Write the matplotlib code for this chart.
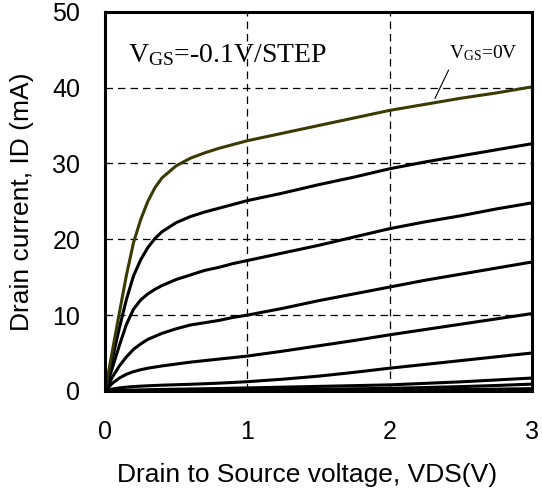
import matplotlib
matplotlib.use("Agg")
import matplotlib.pyplot as plt

plt.rcParams["font.family"] = ["Liberation Sans", "DejaVu Sans"]
plt.rcParams["mathtext.fontset"] = "custom"
plt.rcParams["mathtext.rm"] = "Liberation Serif"

# drain voltage points (V)
vds = [0, 0.05, 0.1, 0.15, 0.2, 0.25, 0.3, 0.35, 0.4, 0.5, 0.6, 0.7, 0.8, 0.9,
       1.0, 1.25, 1.5, 1.75, 2.0, 2.25, 2.5, 2.75, 3.0]

# drain current (mA), VGS = 0V, -0.1V, -0.2V ...
id_0 = [0, 5.2, 10.3, 15.3, 19.6, 22.6, 25.0, 26.8, 28.1, 29.7, 30.7, 31.4, 32.0,
        32.5, 33.0, 34.0, 35.0, 36.0, 37.0, 37.8, 38.6, 39.3, 40.1]
id_1 = [0, 4.2, 8.3, 12.1, 15.2, 17.3, 18.9, 20.1, 21.0, 22.2, 23.0, 23.6, 24.1,
        24.6, 25.1, 26.1, 27.2, 28.2, 29.3, 30.2, 31.0, 31.8, 32.6]
id_2 = [0, 3.0, 6.0, 8.8, 10.8, 12.0, 12.8, 13.4, 13.9, 14.7, 15.3, 15.9, 16.3,
        16.8, 17.2, 18.2, 19.2, 20.3, 21.4, 22.3, 23.1, 24.0, 24.8]
id_3 = [0, 1.8, 3.3, 4.5, 5.5, 6.2, 6.8, 7.2, 7.6, 8.2, 8.7, 9.0, 9.3,
        9.7, 10.0, 10.9, 11.9, 12.8, 13.7, 14.6, 15.4, 16.2, 17.0]
id_4 = [0, 1.0, 1.7, 2.2, 2.55, 2.8, 3.0, 3.15, 3.3, 3.55, 3.8, 4.0, 4.2,
        4.4, 4.6, 5.25, 5.95, 6.65, 7.4, 8.1, 8.8, 9.5, 10.2]
id_5 = [0, 0.25, 0.4, 0.5, 0.58, 0.63, 0.68, 0.72, 0.76, 0.82, 0.88, 0.95, 1.03,
        1.12, 1.22, 1.55, 1.95, 2.45, 3.0, 3.5, 4.0, 4.5, 5.0]
id_6 = [0, 0.05, 0.08, 0.1, 0.12, 0.14, 0.16, 0.18, 0.2, 0.23, 0.26, 0.29, 0.32,
        0.36, 0.4, 0.5, 0.6, 0.7, 0.8, 1.0, 1.2, 1.45, 1.7]
id_7 = [0, 0.02, 0.03, 0.04, 0.05, 0.06, 0.07, 0.08, 0.09, 0.1, 0.11, 0.12, 0.13,
        0.14, 0.15, 0.18, 0.22, 0.28, 0.35, 0.45, 0.57, 0.72, 0.9]
id_8 = [0, 0.01, 0.01, 0.02, 0.02, 0.02, 0.03, 0.03, 0.03, 0.04, 0.04, 0.05, 0.05,
        0.05, 0.06, 0.07, 0.08, 0.1, 0.12, 0.15, 0.19, 0.24, 0.3]

fig = plt.figure(figsize=(5.42, 4.93), dpi=100)
ax = fig.add_axes([0.194, 0.207, 0.787, 0.769])

for curve in [id_8, id_7, id_6, id_5, id_4, id_3, id_2, id_1]:
    ax.plot(vds, curve, color="black", lw=2.2, zorder=3)
ax.plot(vds, id_0, color="#3a3a05", lw=2.2, zorder=4)

ax.set_xlim(0, 3)
ax.set_ylim(0, 50)
ax.set_xticks([0, 1, 2, 3])
ax.set_yticks([0, 10, 20, 30, 40, 50])
ax.grid(True, color="black", linestyle=(0, (6, 4)), lw=0.9)
ax.tick_params(length=0, labelsize=18)
ax.tick_params(axis="x", pad=21)
ax.tick_params(axis="y", pad=18)
for s in ax.spines.values():
    s.set_linewidth(2.2)
    s.set_zorder(5)

ax.set_xlabel("Drain to Source voltage, VDS(V)", fontsize=19)
ax.set_ylabel("Drain current, ID (mA)", fontsize=19)
ax.xaxis.set_label_coords(0.474, -0.19)
ax.yaxis.set_label_coords(-0.167, 0.5)

ax.text(0.16, 43.4, r"$\mathrm{V_{GS}}$=-0.1V/STEP", family="Liberation Serif",
        fontsize=20, va="baseline")
ax.text(2.42, 43.9, r"$\mathrm{V_{GS}}$=0V", family="Liberation Serif",
        fontsize=14, va="baseline")
ax.plot([2.415, 2.32], [42.3, 38.6], color="black", lw=0.8, zorder=4)

fig.savefig("out.png", dpi=100)
